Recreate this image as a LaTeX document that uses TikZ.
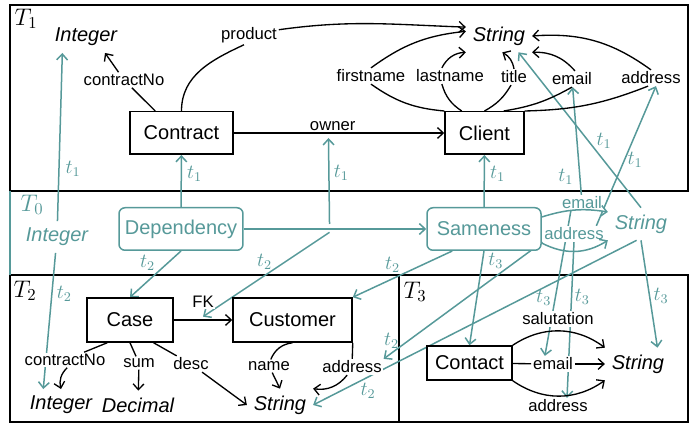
\documentclass[tikz,border=0pt]{standalone}
\usepackage[no-math]{fontspec}
\setmainfont{Liberation Sans}
\usetikzlibrary{arrows.meta, calc}
\definecolor{mapcol}{RGB}{86,153,153}
\pgfdeclarelayer{back}
\pgfsetlayers{back,main}
\tikzset{
	>={Straight Barb[length=3.5pt,width=6.5pt]}, % open arrow heads
	frame/.style={draw, line width=1.1pt}, % borders of the schema areas
	cls/.style={draw, line width=0.9pt, fill=white, font=\large, minimum height=25.5pt}, % class boxes
	tcls/.style={cls, draw=mapcol, text=mapcol, rounded corners=3.6pt}, % classes of T0
	attr/.style={fill=white, inner sep=1pt}, % attribute names
	tattr/.style={attr, text=mapcol},
	typ/.style={font=\large\itshape, inner sep=4pt}, % data types
	ttyp/.style={typ, text=mapcol},
	rel/.style={thick}, % black edges
	map/.style={->, draw=mapcol, line width=0.9pt}, % morphisms out of T0
	tl/.style={text=mapcol, font=\large, inner sep=1.5pt}, % names of the morphisms
	area/.style={font=\Large}, % names of the schemas
}
\begin{document}
\begin{tikzpicture}[x=0.6pt, y=-0.6pt]
	\useasboundingbox (0,0) rectangle (691,424);
	\begin{pgfonlayer}{back}
		\draw[frame] (10,5) rectangle (688,191);
		\draw[frame] (10,275) rectangle (399,422);
		\draw[frame] (399,275) rectangle (688,422);
		\draw[frame, draw=mapcol] (10,191) -- (10,275);
	\end{pgfonlayer}

	% T1
	\node[area] (T1) at (26,19) {$T_1$};
	\node[typ] (intT1) at (86,37) {Integer};
	\node[typ] (strT1) at (499,36) {String};
	\node[cls, minimum width=61.8pt] (contract) at (181.5,133) {Contract};
	\node[cls, minimum width=47.4pt] (client) at (484.5,133) {Client};
	\node[attr] (cnoT1) at (124,80) {contractNo};
	\node[attr] (product) at (249,35) {product};
	\node[attr] (fname) at (371,76) {firstname};
	\node[attr] (lname) at (450,76) {lastname};
	\node[attr] (title) at (514,77) {title};
	\node[attr] (emT1) at (572,79) {email};
	\node[attr] (adT1) at (651,78) {address};
	\draw[rel] (contract.140) -- (cnoT1);
	\draw[rel, ->] (cnoT1) -- (intT1.-40);
	\draw[rel] (contract.north) to[out=90, in=205] ([xshift=-3pt]product.south);
	\draw[rel, ->] (product.10) to[out=8, in=178] (strT1.165);
	\draw[rel, ->] (contract) -- coordinate[pos=.45] (ownerMid) node[attr, pos=.47, above] (owner) {owner} (client);
	\draw[rel] (client.north west) to[bend left=15] (fname.south);
	\draw[rel, ->] (fname.north) to[bend left=15] (strT1.172);
	\draw[rel] (client.136) to[bend left=20] (lname.-135);
	\draw[rel, ->] (lname.135) to[bend left=30] (strT1.south west);
	\draw[rel] (client.north) to[bend right=15] (title.-110);
	\draw[rel, ->] (title.north) to[bend right=25] ([xshift=2pt]strT1.south);
	\draw[rel] (client.49) to[bend right=10] (emT1.south);
	\draw[rel, ->] (emT1.70) to[bend right=25] (strT1.south east);
	\draw[rel] (client.north east) to[bend right=10] (adT1.-110);
	\draw[rel, ->] (adT1.north) to[bend right=20] (strT1.east);

	% T0
	\node[area, text=mapcol] (T0) at (32,205) {$T_0$};
	\node[ttyp] (intT0) at (57,237) {Integer};
	\node[tcls, minimum width=74.4pt] (dep) at (181,229) {Dependency};
	\node[tcls, minimum width=68.4pt] (same) at (484,229) {Sameness};
	\node[ttyp] (strT0) at (641,224) {String};
	\node[tattr] (emT0) at (582,203) {email};
	\node[tattr] (adT0) at (574,234) {address};
	\draw[map] (dep) -- coordinate[pos=.47] (depMid) (same);
	\draw[map] ($(same.east)+(0,-12)$) to[bend left=13] (strT0.160);
	\draw[map] ($(same.east)+(0,14)$) to[bend right=30] (strT0.south west);

	% T2
	\node[area] (T2) at (25,291) {$T_2$};
	\node[cls, minimum width=51.6pt, minimum height=26.4pt] (case) at (130,320) {Case};
	\node[cls, minimum width=71.4pt, minimum height=26.4pt] (customer) at (292.5,320) {Customer};
	\node[attr] (cnoT2) at (65,360) {contractNo};
	\node[attr] (sum) at (139,363) {sum};
	\node[attr] (desc) at (191,364) {desc};
	\node[attr] (name) at (269,366) {name};
	\node[attr] (adT2) at (352,367) {address};
	\node[typ] (intT2) at (61,405) {Integer};
	\node[typ] (dec) at (138,405) {Decimal};
	\node[typ] (strT2) at (280,405) {String};
	\draw[rel, ->] (case) -- coordinate[pos=.5] (fkMid) node[attr, midway, above=6pt] (fk) {FK} (customer);
	\draw[rel] (case.-135) -- (cnoT2);
	\draw[rel, ->] (cnoT2.-75) to[bend right=30] (intT2.north);
	\draw[rel] (case.south) -- (sum);
	\draw[rel, ->] (sum) -- (dec);
	\draw[rel] (case.-44) -- (desc);
	\draw[rel, ->] (desc) -- (strT2.west);
	\draw[rel] (customer.south) to[bend right=30] (name);
	\draw[rel, ->] (name) -- (strT2.north);
	\draw[rel] (customer.south east) -- (adT2);
	\draw[rel, ->] (adT2) to[bend left=30] (strT2.north east);

	% T3
	\node[area] (T3) at (415,292) {$T_3$};
	\node[cls, minimum width=51pt, minimum height=20.4pt] (contact) at (469.5,363) {Contact};
	\node[attr] (salut) at (558,319) {salutation};
	\node[attr] (emT3) at (553,364) {email};
	\node[attr] (adT3) at (558,406) {address};
	\node[typ] (strT3) at (638,364) {String};
	\draw[rel, ->] (contact.north east) to[bend left=35] (strT3.north west);
	\draw[rel] (contact) -- (emT3);
	\draw[rel, ->] (emT3) -- (strT3);
	\draw[rel, ->] (contact.south east) to[bend right=35] (strT3.south west);

	% morphisms t1, t2, t3
	\begin{pgfonlayer}{back}
		\draw[map] (intT0) -- node[tl, pos=.31, right=2pt] {$t_1$} (intT1.-146);
		\draw[map] (dep) -- node[tl, pos=.63, right=1.5pt] {$t_1$} (contract);
		\draw[map] ([yshift=3pt]depMid) -- node[tl, pos=.59, right=1pt] {$t_1$} ([yshift=-3pt]ownerMid);
		\draw[map] (same) -- node[tl, pos=.63, right=1.5pt] {$t_1$} (client);
		\draw[map] (emT0) -- node[tl, pos=.17, left=2pt] {$t_1$} (emT1);
		\draw[map] (adT0.20) -- node[tl, pos=.47, right=0pt] {$t_1$} ([xshift=3pt]adT1.south);
		\draw[map] (strT0.north) -- node[tl, pos=.43, right=3pt] {$t_1$} (strT1.-40);

		\draw[map] (intT0) -- node[tl, pos=.3, right=1pt] {$t_2$} (intT2.138);
		\draw[map] (dep.south) -- node[tl, pos=.25, left=6pt] {$t_2$} (case.north);
		\draw[map] ([yshift=-2pt]depMid) -- node[tl, pos=.35, left=6pt] {$t_2$} ([yshift=2pt]fkMid);
		\draw[map] ($(same.south west)+(26,0)$) -- node[tl, pos=.6, above=2pt] {$t_2$} (customer.north east);
		\draw[map] (adT0.south west) -- node[tl, pos=.95, above=1pt] {$t_2$} (adT2.north east);
		\draw[map] (strT0.-105) -- node[tl, pos=.83, below=1.5pt] {$t_2$} (strT2.east);

		\draw[map] (same.south) -- node[tl, pos=.1, right=1.5pt] {$t_3$} (contact.north);
		\draw[map] (emT0.-144) -- node[tl, pos=.6, left=.5pt] {$t_3$} (emT3.135);
		\draw[map] (adT0.south) -- node[tl, pos=.35, right=0pt] {$t_3$} (adT3.42);
		\draw[map] (strT0.south) -- node[tl, pos=.52, right=.5pt] {$t_3$} (strT3.40);
	\end{pgfonlayer}
\end{tikzpicture}
\end{document}
